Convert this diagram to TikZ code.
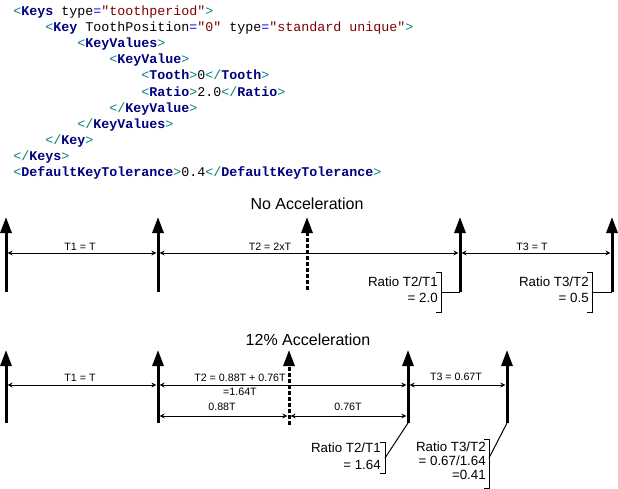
\documentclass[tikz,border=0pt]{standalone}
\usepackage{fontspec}
\setmainfont{Liberation Sans}
\newfontfamily\codefont[Ligatures=TeXOff]{Liberation Mono}
\usetikzlibrary{arrows.meta}

\definecolor{xmlteal}{RGB}{0,128,128}
\definecolor{xmlnavy}{RGB}{0,0,128}
\definecolor{xmlblue}{RGB}{0,0,255}
\definecolor{xmlred}{RGB}{128,0,0}

\newcommand{\xmlo}{\textcolor{xmlteal}{<}}
\newcommand{\xmle}{\textcolor{xmlteal}{</}}
\newcommand{\xmlc}{\textcolor{xmlteal}{>}}
\newcommand{\xmltag}[1]{\textcolor{xmlnavy}{\bfseries #1}}
\newcommand{\xmlattr}[2]{#1\textcolor{xmlblue}{=}\textcolor{xmlred}{"#2"}}

\begin{document}
\begin{tikzpicture}[x=0.75pt,y=-0.75pt,
  tooth/.style={line width=2.25pt,-{Triangle[length=12pt,width=8.25pt]}},
  ghost/.style={tooth,dash pattern=on 3pt off 1.5pt},
  dim/.style={line width=0.75pt,{Stealth[length=3.75pt,width=3.75pt]}-{Stealth[length=3.75pt,width=3.75pt]}},
  thin/.style={line width=0.75pt},
  lbl/.style={font=\fontsize{8}{9}\selectfont,inner sep=0pt},
  ratio/.style={font=\fontsize{10}{12}\selectfont,align=right,inner sep=0pt,anchor=east},
  title/.style={font=\fontsize{12}{14}\selectfont,inner sep=0pt},
  code/.style={font={\codefont\fontsize{10}{12}\selectfont},anchor=base west,inner sep=0pt}]

\useasboundingbox (0,0) rectangle (618,489);

% xml
\node[code] (c1) at (13,15.5) {\xmlo\xmltag{Keys} \xmlattr{type}{toothperiod}\xmlc};
\node[code] (c2) at (45,31.6) {\xmlo\xmltag{Key} \xmlattr{ToothPosition}{0} \xmlattr{type}{standard unique}\xmlc};
\node[code] (c3) at (77,47.7) {\xmlo\xmltag{KeyValues}\xmlc};
\node[code] (c4) at (109,63.8) {\xmlo\xmltag{KeyValue}\xmlc};
\node[code] (c5) at (141,79.9) {\xmlo\xmltag{Tooth}\xmlc 0\xmle\xmltag{Tooth}\xmlc};
\node[code] (c6) at (141,96) {\xmlo\xmltag{Ratio}\xmlc 2.0\xmle\xmltag{Ratio}\xmlc};
\node[code] (c7) at (109,112.1) {\xmle\xmltag{KeyValue}\xmlc};
\node[code] (c8) at (77,128.2) {\xmle\xmltag{KeyValues}\xmlc};
\node[code] (c9) at (45,144.3) {\xmle\xmltag{Key}\xmlc};
\node[code] (c10) at (13,160.4) {\xmle\xmltag{Keys}\xmlc};
\node[code] (c11) at (13,176.5) {\xmlo\xmltag{DefaultKeyTolerance}\xmlc 0.4\xmle\xmltag{DefaultKeyTolerance}\xmlc};

% no acceleration
\node[title] (noacc) at (307,204) {No Acceleration};

\coordinate (a1) at (6,292);
\coordinate (a2) at (158,292);
\coordinate (ah) at (307,290);
\coordinate (a3) at (460,292);
\coordinate (a4) at (612,292);

\draw[tooth] (a1) -- ++(0,-75);
\draw[tooth] (a2) -- ++(0,-75);
\draw[ghost] (ah) -- ++(0,-73);
\draw[tooth] (a3) -- ++(0,-75);
\draw[tooth] (a4) -- ++(0,-75);

\coordinate (a1d) at (6,253);
\coordinate (a2d) at (158,253);
\coordinate (a3d) at (460,253);
\coordinate (a4d) at (612,253);

\draw[dim] ([xshift=1.2pt]a1d) -- ([xshift=-1.2pt]a2d);
\draw[dim] ([xshift=1.2pt]a2d) -- ([xshift=-1.2pt]a3d);
\draw[dim] ([xshift=1.2pt]a3d) -- ([xshift=-1.2pt]a4d);

\node[lbl] (t1a) at (80,247) {T1 = T};
\node[lbl] (t2a) at (270,247) {T2 = 2xT};
\node[lbl] (t3a) at (532,247) {T3 = T};

\node[ratio] (ra1) at (438,290) {Ratio T2/T1\\= 2.0};
\coordinate (ka1) at (441,292);
\draw[thin] (436,272) -- (441,272) -- (441,312) -- (436,312);
\draw[thin] (ka1) -- (a3);

\node[ratio] (ra2) at (589,290) {Ratio T3/T2\\= 0.5};
\coordinate (ka2) at (592,292);
\draw[thin] (587,272) -- (592,272) -- (592,312) -- (587,312);
\draw[thin] (ka2) -- (a4);

% 12% acceleration
\node[title] (acc) at (308,340) {12\% Acceleration};

\coordinate (b1) at (6,423);
\coordinate (b2) at (158,423);
\coordinate (bh) at (289,425);
\coordinate (b3) at (408,423);
\coordinate (b4) at (507,423);

\draw[tooth] (b1) -- ++(0,-73);
\draw[tooth] (b2) -- ++(0,-73);
\draw[ghost] (bh) -- ++(0,-75);
\draw[tooth] (b3) -- ++(0,-73);
\draw[tooth] (b4) -- ++(0,-73);

\coordinate (b1d) at (6,385);
\coordinate (b2d) at (158,385);
\coordinate (b3d) at (408,385);
\coordinate (b4d) at (507,385);
\coordinate (b2e) at (158,416);
\coordinate (bhe) at (289,416);
\coordinate (b3e) at (408,416);

\draw[dim] ([xshift=1.2pt]b1d) -- ([xshift=-1.2pt]b2d);
\draw[dim] ([xshift=1.2pt]b2d) -- ([xshift=-1.2pt]b3d);
\draw[dim] ([xshift=1.2pt]b3d) -- ([xshift=-1.2pt]b4d);
\draw[dim] ([xshift=1.2pt]b2e) -- ([xshift=-1.2pt]bhe);
\draw[dim] ([xshift=1.2pt]bhe) -- ([xshift=-1.2pt]b3e);

\node[lbl] (t1b) at (80,378) {T1 = T};
\node[lbl] (t2b) at (240,378) {T2 = 0.88T + 0.76T};
\node[lbl] (t2c) at (240,392) {=1.64T};
\node[lbl] (p1) at (222,407) {0.88T};
\node[lbl] (p2) at (348,407) {0.76T};
\node[lbl] (t3b) at (456,377) {T3 = 0.67T};

\node[ratio,font=\fontsize{10}{12.75}\selectfont] (rb1) at (381,456.5) {Ratio T2/T1\\= 1.64};
\coordinate (kb1) at (385,458);
\draw[thin] (380,442) -- (385,442) -- (385,473) -- (380,473);
\draw[thin] (kb1) -- (b3);

\node[ratio,font=\fontsize{10}{10.5}\selectfont] (rb2) at (486,461) {Ratio T3/T2\\= 0.67/1.64\\=0.41};
\coordinate (kb2) at (489,458);
\draw[thin] (484,439) -- (489,439) -- (489,488) -- (484,488);
\draw[thin] (kb2) -- (b4);
\end{tikzpicture}
\end{document}
